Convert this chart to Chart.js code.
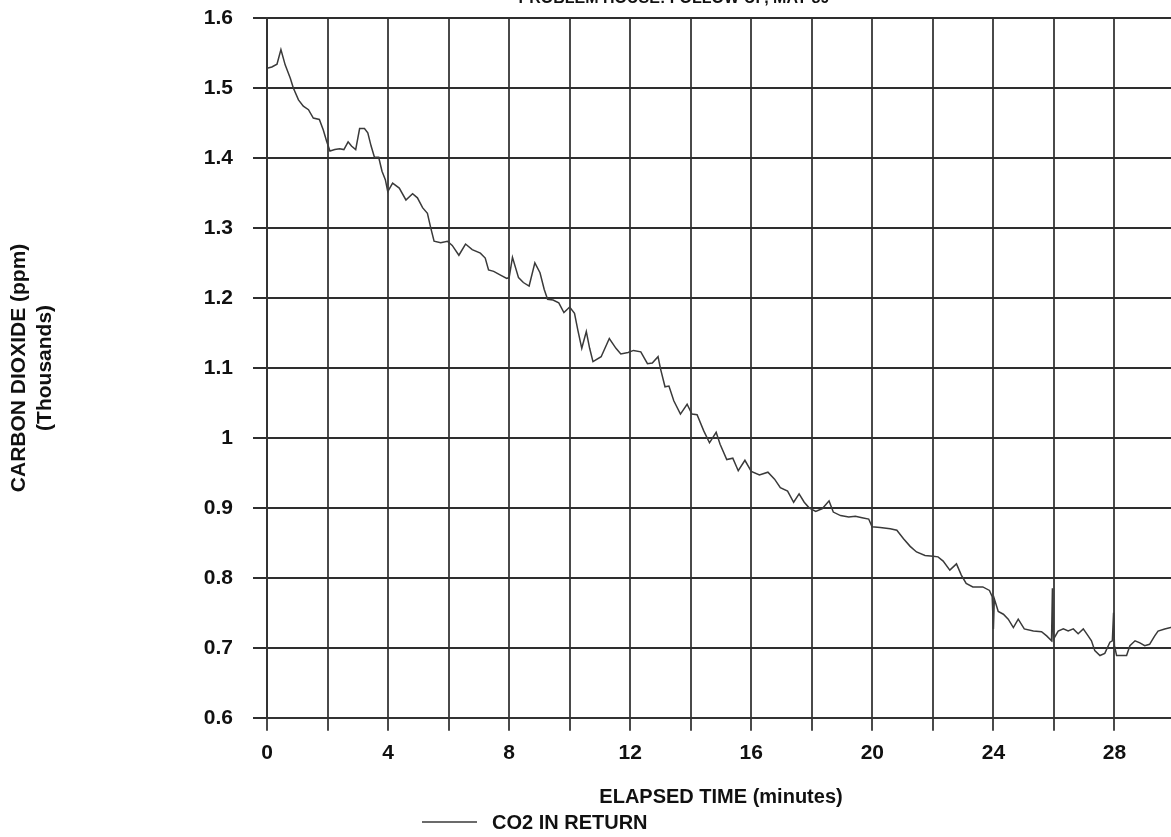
<!DOCTYPE html>
<html>
<head>
<meta charset="utf-8">
<title>CO2 decay</title>
<script src="https://cdn.jsdelivr.net/npm/chart.js@4"></script>
<style>
  html, body { margin: 0; padding: 0; background: #fff; overflow: hidden; }
  canvas { display: block; }
</style>
</head>
<body>
<canvas id="co2Chart" width="1175" height="837"></canvas>
<script>
// elapsed time in minutes, and CO2 in return air (thousands of ppm)
var elapsedMin = [
  0.00, 0.16, 0.33, 0.46, 0.60, 0.77, 0.87, 1.04, 1.20, 1.37, 1.53, 1.73, 1.86, 1.97,
  2.08, 2.24, 2.40, 2.54, 2.68, 2.79, 2.93, 3.06, 3.22, 3.33, 3.44, 3.55, 3.69, 3.80,
  3.91, 3.99, 4.15, 4.37, 4.59, 4.81, 4.97, 5.14, 5.30, 5.41, 5.52, 5.74, 5.96, 6.12,
  6.34, 6.56, 6.78, 7.05, 7.21, 7.32, 7.49, 7.70, 7.92, 8.00, 8.11, 8.31, 8.47, 8.66,
  8.85, 9.02, 9.16, 9.27, 9.45, 9.64, 9.81, 10.00, 10.16, 10.27, 10.40, 10.55, 10.66,
  10.77, 11.04, 11.31, 11.53, 11.69, 11.93, 12.11, 12.35, 12.57, 12.73, 12.92, 13.00,
  13.15, 13.28, 13.44, 13.66, 13.88, 14.04, 14.21, 14.43, 14.62, 14.84, 14.97, 15.19,
  15.39, 15.57, 15.79, 16.00, 16.27, 16.55, 16.77, 16.96, 17.20, 17.40, 17.58, 17.75,
  17.91, 18.13, 18.35, 18.57, 18.71, 18.95, 19.22, 19.44, 19.66, 19.88, 19.99, 20.26,
  20.59, 20.81, 21.03, 21.25, 21.46, 21.74, 22.01, 22.17, 22.34, 22.56, 22.78, 22.94,
  23.10, 23.32, 23.65, 23.87, 23.96, 24.00, 24.03, 24.16, 24.33, 24.49, 24.66, 24.82,
  25.02, 25.32, 25.59, 25.76, 25.92, 25.95, 25.98, 26.14, 26.31, 26.47, 26.64, 26.80,
  26.97, 27.13, 27.24, 27.35, 27.52, 27.68, 27.85, 27.93, 27.97, 28.00, 28.07, 28.40,
  28.51, 28.68, 28.84, 29.00, 29.16, 29.33, 29.44, 29.66, 29.86, 30.00
];
var co2Return = [
  1.528, 1.530, 1.534, 1.555, 1.533, 1.514, 1.500, 1.483, 1.474, 1.469, 1.457, 1.455, 1.440, 1.424,
  1.410, 1.412, 1.413, 1.412, 1.423, 1.417, 1.412, 1.442, 1.442, 1.436, 1.417, 1.401, 1.401, 1.381,
  1.369, 1.352, 1.364, 1.357, 1.340, 1.349, 1.343, 1.329, 1.321, 1.300, 1.281, 1.279, 1.281, 1.275,
  1.261, 1.277, 1.269, 1.264, 1.257, 1.240, 1.238, 1.233, 1.228, 1.229, 1.258, 1.229, 1.222, 1.217,
  1.250, 1.236, 1.212, 1.198, 1.197, 1.193, 1.179, 1.187, 1.178, 1.154, 1.128, 1.152, 1.128,
  1.109, 1.116, 1.142, 1.128, 1.120, 1.122, 1.125, 1.123, 1.106, 1.107, 1.116, 1.099,
  1.073, 1.074, 1.053, 1.034, 1.048, 1.034, 1.033, 1.010, 0.993, 1.008, 0.991, 0.969,
  0.971, 0.953, 0.968, 0.952, 0.947, 0.951, 0.941, 0.929, 0.924, 0.908, 0.920, 0.908,
  0.900, 0.895, 0.899, 0.910, 0.894, 0.889, 0.887, 0.888, 0.886, 0.884, 0.873, 0.872,
  0.870, 0.868, 0.856, 0.845, 0.837, 0.832, 0.831, 0.830, 0.824, 0.811, 0.820, 0.804,
  0.792, 0.787, 0.787, 0.782, 0.773, 0.727, 0.770, 0.752, 0.748, 0.741, 0.729, 0.741,
  0.727, 0.724, 0.723, 0.717, 0.710, 0.785, 0.712, 0.724, 0.727, 0.724, 0.727, 0.720,
  0.727, 0.717, 0.710, 0.696, 0.689, 0.692, 0.708, 0.710, 0.750, 0.703, 0.689, 0.689,
  0.703, 0.710, 0.707, 0.703, 0.705, 0.717, 0.724, 0.727, 0.729, 0.730
];

// labelled minutes on the time axis (grid every 2)
var timeLabels = [0, 4, 8, 12, 16, 20, 24, 28];

var chartTitle = 'PROBLEM HOUSE: FOLLOW-UP, MAY 89';
var seriesName = 'CO2 IN RETURN';

Chart.defaults.font.family = "'Liberation Sans', Arial, sans-serif";
Chart.defaults.color = '#111';

var points = [];
for (var i = 0; i < elapsedMin.length; i = i + 1) {
  points.push({ x: elapsedMin[i], y: co2Return[i] });
}

// title sits partly above the top edge; legend is a single line key under the axis title
var extraText = {
  id: 'extraText',
  afterDraw: function (chart) {
    var ctx = chart.ctx;
    var ds = chart.data.datasets[0];
    ctx.save();
    ctx.fillStyle = '#111';
    ctx.font = "bold 16px 'Liberation Sans', Arial, sans-serif";
    ctx.textAlign = 'center';
    ctx.textBaseline = 'alphabetic';
    ctx.fillText(chartTitle, 674, 3);

    ctx.strokeStyle = ds.borderColor;
    ctx.lineWidth = 1.5;
    ctx.beginPath();
    ctx.moveTo(422, 822);
    ctx.lineTo(477, 822);
    ctx.stroke();
    ctx.font = "bold 20px 'Liberation Sans', Arial, sans-serif";
    ctx.textAlign = 'left';
    ctx.textBaseline = 'middle';
    ctx.fillText(ds.label, 492, 823);
    ctx.restore();
  }
};

new Chart(document.getElementById('co2Chart').getContext('2d'), {
  type: 'line',
  data: {
    datasets: [{
      label: seriesName,
      data: points,
      borderColor: '#3a3a3a',
      borderWidth: 1.5,
      pointRadius: 0,
      tension: 0,
      fill: false
    }]
  },
  options: {
    responsive: false,
    animation: false,
    layout: { padding: { top: 18, right: 0, bottom: 28, left: 0 } },
    plugins: {
      legend: { display: false },
      title: { display: false },
      tooltip: { enabled: false }
    },
    scales: {
      x: {
        type: 'linear',
        min: 0,
        max: 30,
        afterFit: function (scale) { scale.paddingLeft = 0; scale.paddingRight = 0; },
        border: { color: '#333', width: 2 },
        grid: { color: '#4a4a4a', lineWidth: 2, tickLength: 13, tickColor: '#4a4a4a' },
        ticks: {
          stepSize: 2,
          padding: 10,
          font: { size: 21, weight: 'bold' },
          callback: function (v) { return timeLabels.indexOf(v) >= 0 ? String(v) : ''; }
        },
        title: {
          display: true,
          text: 'ELAPSED TIME (minutes)',
          font: { size: 20, weight: 'bold' },
          padding: { top: 9, bottom: 0 }
        }
      },
      y: {
        min: 0.6,
        max: 1.6,
        afterFit: function (scale) {
          scale.width = 267;
          scale.paddingTop = 0;
          scale.paddingBottom = 0;
        },
        border: { color: '#333', width: 2 },
        grid: { color: '#2e2e2e', lineWidth: 2, tickLength: 14, tickColor: '#2e2e2e' },
        ticks: {
          stepSize: 0.1,
          padding: 20,
          font: { size: 21, weight: 'bold' },
          callback: function (v) { return String(+v.toFixed(1)); }
        },
        title: {
          display: true,
          text: ['CARBON DIOXIDE (ppm)', '(Thousands)'],
          font: { size: 21, weight: 'bold', lineHeight: 1.2 },
          padding: { top: 7, bottom: 0 }
        }
      }
    }
  },
  plugins: [extraText]
});
</script>
</body>
</html>
